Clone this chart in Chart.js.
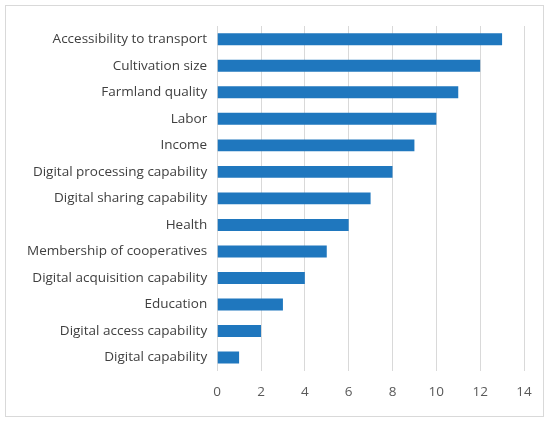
<!DOCTYPE html>
<html>
<head>
<meta charset="utf-8">
<script src="https://cdn.jsdelivr.net/npm/chart.js@4.4.1/dist/chart.umd.min.js"></script>
<style>
  body { margin: 0; background: #fff; }
  #wrap { position: relative; width: 550px; height: 422px; }
  #frame { position: absolute; left: 5px; top: 5px; width: 537px; height: 410px; border: 1px solid #d9d9d9; pointer-events: none; }
</style>
</head>
<body>
<div id="wrap">
  <canvas id="myChart" width="550" height="422"></canvas>
  <div id="frame"></div>
</div>
<script>
// factors, top to bottom
var factors = ['Accessibility to transport', 'Cultivation size', 'Farmland quality', 'Labor', 'Income',
    'Digital processing capability', 'Digital sharing capability', 'Health', 'Membership of cooperatives',
    'Digital acquisition capability', 'Education', 'Digital access capability', 'Digital capability'];
var values = [13, 12, 11, 10, 9, 8, 7, 6, 5, 4, 3, 2, 1];
var xTicks = [0, 2, 4, 6, 8, 10, 12, 14];

var ctx = document.getElementById('myChart');
var chart = new Chart(ctx, {
    type: 'bar',
    data: {
        labels: factors,
        datasets: [{
            data: values,
            backgroundColor: '#1f77be',
            borderColor: '#1f77be',
            borderWidth: 0,
            barPercentage: 0.45,
            categoryPercentage: 1
        }]
    },
    options: {
        indexAxis: 'y',
        responsive: false,
        animation: false,
        layout: { padding: { left: 17, right: 26, top: 26, bottom: 9 } },
        plugins: { legend: { display: false }, tooltip: { enabled: false } },
        scales: {
            x: {
                min: 0,
                max: 14,
                afterBuildTicks: function (axis) {
                    axis.ticks = xTicks.map(function (v) { return { value: v }; });
                },
                grid: { color: '#d9d9d9', drawTicks: false },
                border: { display: false },
                ticks: { color: '#595959', font: { family: 'Open Sans', size: 13.5 }, padding: 13 }
            },
            y: {
                grid: { display: false, drawTicks: false },
                border: { display: false },
                ticks: { color: '#404040', font: { family: 'Open Sans', size: 13.5 }, padding: 10 }
            }
        }
    }
});
</script>
</body>
</html>
